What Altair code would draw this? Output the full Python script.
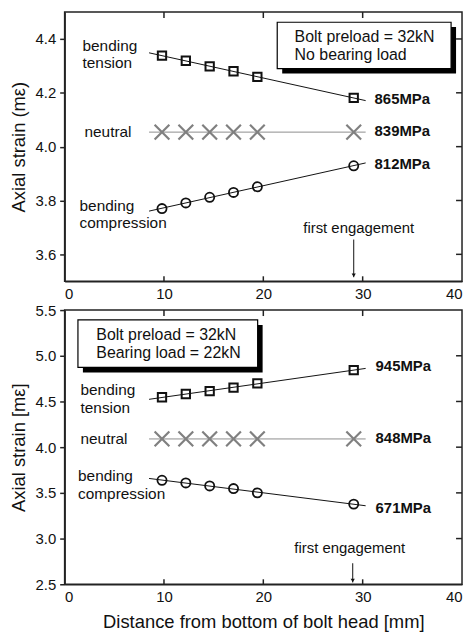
import altair as alt
import pandas as pd

FONT = "Liberation Sans"

x_pos = [9.8, 12.2, 14.6, 17.0, 19.4, 29.1]
top_tension = [4.338, 4.319, 4.298, 4.280, 4.259, 4.181]
top_neutral = [4.054, 4.054, 4.054, 4.054, 4.054, 4.054]
top_compression = [3.770, 3.791, 3.812, 3.830, 3.851, 3.929]
bot_tension = [4.546, 4.582, 4.614, 4.651, 4.698, 4.843]
bot_neutral = [4.09, 4.09, 4.09, 4.09, 4.09, 4.09]
bot_compression = [3.638, 3.609, 3.576, 3.547, 3.500, 3.377]

series_names = ["tension", "neutral", "compression"]
top_stress = ["865MPa", "839MPa", "812MPa"]
bot_stress = ["945MPa", "848MPa", "671MPa"]
top_box_lines = ["Bolt preload = 32kN", "No bearing load"]
bot_box_lines = ["Bolt preload = 32kN", "Bearing load = 22kN"]
side_labels = ["bending", "tension", "neutral", "bending", "compression"]
engage_label = ["first engagement"]

x_ticks = [0, 10, 20, 30, 40]
inner_x_ticks = [10, 20, 30]
top_y_ticks = [3.6, 3.8, 4.0, 4.2, 4.4]
top_inner_y = [3.6, 3.8, 4.0, 4.2, 4.4]
bot_y_ticks = [2.5, 3.0, 3.5, 4.0, 4.5, 5.0, 5.5]
bot_inner_y = [3.0, 3.5, 4.0, 4.5, 5.0]

# ---- annotation anchors (data coordinates) ----
top_side_x = [1.8, 1.8, 2.0, 1.5, 1.5]
top_side_y = [4.375, 4.311, 4.054, 3.779, 3.715]
top_stress_x = [31.2, 31.2, 31.2]
top_stress_y = [4.176, 4.058, 3.934]
top_box = [21.4, 38.9, 4.29, 4.462]
top_box_text_x = [23.15, 23.15]
top_box_text_y = [4.406, 4.341]
top_shadow = [0.5, 0.018]
top_engage = [29.6, 3.697]
top_arrow = [29.1, 3.655, 3.515]

bot_side_x = [1.6, 1.6, 1.6, 1.35, 1.35]
bot_side_y = [4.63, 4.43, 4.085, 3.685, 3.49]
bot_stress_x = [31.3, 31.3, 31.3]
bot_stress_y = [4.89, 4.10, 3.336]
bot_box = [1.34, 19.43, 4.873, 5.392]
bot_box_text_x = [3.19, 3.19]
bot_box_text_y = [5.224, 5.028]
bot_shadow = [0.5, 0.055]
bot_engage = [28.7, 2.893]
bot_arrow = [29.0, 2.73, 2.52]

W = 400


def panel(tension, neutral, compression, stress, box_lines, ydom, yticks, inner_y,
          ytitle, xtitle, H, side_x, side_y, stress_x, stress_y, box, box_tx, box_ty,
          shadow, engage, arrow):
    xs = alt.Scale(domain=[0, 40], nice=False, zero=False)
    ys = alt.Scale(domain=ydom, nice=False, zero=False)
    xkw = dict(values=x_ticks, ticks=False, labelPadding=5, format="d", grid=False)
    if xtitle:
        xkw["title"] = xtitle
        xkw["titlePadding"] = 9
    else:
        xkw["title"] = ""
    xaxis = alt.Axis(**xkw)
    yaxis = alt.Axis(values=yticks, title=ytitle, format=".1f", grid=False,
                     tickSize=5, labelPadding=4, titlePadding=7)
    X = alt.X("x:Q", scale=xs, axis=xaxis)
    Y = alt.Y("y:Q", scale=ys, axis=yaxis)

    meas = pd.DataFrame({
        "x": x_pos * 3,
        "y": tension + neutral + compression,
        "series": [series_names[0]] * 6 + [series_names[1]] * 6 + [series_names[2]] * 6,
    })

    # legend-style box with shadow
    bx = pd.DataFrame({"x": [box[0]], "x2": [box[1]], "y": [box[2]], "y2": [box[3]]})
    sh = pd.DataFrame({"x": [box[0] + shadow[0]], "x2": [box[1] + shadow[0]],
                       "y": [box[2] - shadow[1]], "y2": [box[3] - shadow[1]]})
    shadow_l = alt.Chart(sh).mark_rect(color="black").encode(
        x=X, x2="x2:Q", y=Y, y2="y2:Q")
    box_l = alt.Chart(bx).mark_rect(fill="white", stroke="black", strokeWidth=1.2).encode(
        x=X, x2="x2:Q", y=Y, y2="y2:Q")
    box_text = alt.Chart(pd.DataFrame({"x": box_tx, "y": box_ty, "t": box_lines})).mark_text(
        align="left", baseline="middle", font=FONT, fontSize=16, color="#111").encode(
        x=X, y=Y, text="t:N")

    lines = alt.Chart(meas).transform_regression(
        "x", "y", groupby=["series"], extent=[8.5, 30.3]
    ).mark_line(strokeWidth=1).encode(
        x=X, y=Y,
        color=alt.Color("series:N", scale=alt.Scale(domain=series_names,
                                                     range=["#111", "#8c8c8c", "#111"]),
                        legend=None))

    squares = alt.Chart(meas).transform_filter(alt.datum.series == "tension").mark_point(
        shape="square", size=70, strokeWidth=2, color="#111", filled=False, opacity=1
    ).encode(x=X, y=Y)
    crosses = alt.Chart(meas).transform_filter(alt.datum.series == "neutral").mark_point(
        shape="M-1,-1L1,1M-1,1L1,-1", size=220, strokeWidth=2.2, color="#808080",
        filled=False, opacity=1
    ).encode(x=X, y=Y)
    circles = alt.Chart(meas).transform_filter(alt.datum.series == "compression").mark_point(
        shape="circle", size=85, strokeWidth=1.8, color="#111", filled=False, opacity=1
    ).encode(x=X, y=Y)

    side = alt.Chart(pd.DataFrame({"x": side_x, "y": side_y, "t": side_labels})).mark_text(
        align="left", baseline="middle", font=FONT, fontSize=15.5, color="#111"
    ).encode(x=X, y=Y, text="t:N")
    mpa = alt.Chart(pd.DataFrame({"x": stress_x, "y": stress_y, "t": stress})).mark_text(
        align="left", baseline="middle", font=FONT, fontSize=15, fontWeight="bold", color="#111"
    ).encode(x=X, y=Y, text="t:N")

    eng = alt.Chart(pd.DataFrame({"x": [engage[0]], "y": [engage[1]], "t": engage_label})).mark_text(
        align="center", baseline="middle", font=FONT, fontSize=15, color="#111"
    ).encode(x=X, y=Y, text="t:N")
    arr = alt.Chart(pd.DataFrame({"x": [arrow[0]], "y": [arrow[1]], "y2": [arrow[2]]})).mark_rule(
        color="#111", strokeWidth=1).encode(x=X, y=Y, y2="y2:Q")
    head = alt.Chart(pd.DataFrame({"x": [arrow[0]], "y": [arrow[2]]})).mark_point(
        shape="triangle-down", size=18, filled=True, color="#111", opacity=1, yOffset=-2
    ).encode(x=X, y=Y)

    top_t = alt.Chart(pd.DataFrame({"x": inner_x_ticks})).mark_rule(
        color="#222", strokeWidth=1.5).encode(x=X, y=alt.value(0), y2=alt.value(6))
    bot_t = alt.Chart(pd.DataFrame({"x": inner_x_ticks})).mark_rule(
        color="#222", strokeWidth=1.5).encode(x=X, y=alt.value(H - 5), y2=alt.value(H))
    right_t = alt.Chart(pd.DataFrame({"y": inner_y})).mark_rule(
        color="#222", strokeWidth=1.5).encode(y=Y, x=alt.value(W - 6), x2=alt.value(W))

    return alt.layer(
        shadow_l, box_l, box_text, lines, crosses, squares, circles,
        side, mpa, eng, arr, head, top_t, bot_t, right_t
    ).properties(width=W, height=H)


top = panel(top_tension, top_neutral, top_compression, top_stress, top_box_lines,
            [3.5, 4.5], top_y_ticks, top_inner_y, "Axial strain (m\u03b5)", None, 271,
            top_side_x, top_side_y, top_stress_x, top_stress_y, top_box,
            top_box_text_x, top_box_text_y, top_shadow, top_engage, top_arrow)

bottom = panel(bot_tension, bot_neutral, bot_compression, bot_stress, bot_box_lines,
               [2.5, 5.5], bot_y_ticks, bot_inner_y, "Axial strain [m\u03b5]",
               "Distance from bottom of bolt head [mm]", 276,
               bot_side_x, bot_side_y, bot_stress_x, bot_stress_y, bot_box,
               bot_box_text_x, bot_box_text_y, bot_shadow, bot_engage, bot_arrow)

chart = alt.vconcat(top, bottom, spacing=29, bounds="flush").properties(
    padding={"left": 0, "top": 0, "right": 0, "bottom": 0}
).configure_view(
    stroke="#222", strokeWidth=1.5
).configure_axis(
    domainColor="#222", domainWidth=1.5, tickColor="#222", tickWidth=1.5,
    labelFont=FONT, labelFontSize=15, labelColor="#111",
    titleFont=FONT, titleFontSize=18.5, titleFontWeight="normal", titleColor="#111"
)

chart.save("out.html", embed_options={"renderer": "svg", "actions": False})
